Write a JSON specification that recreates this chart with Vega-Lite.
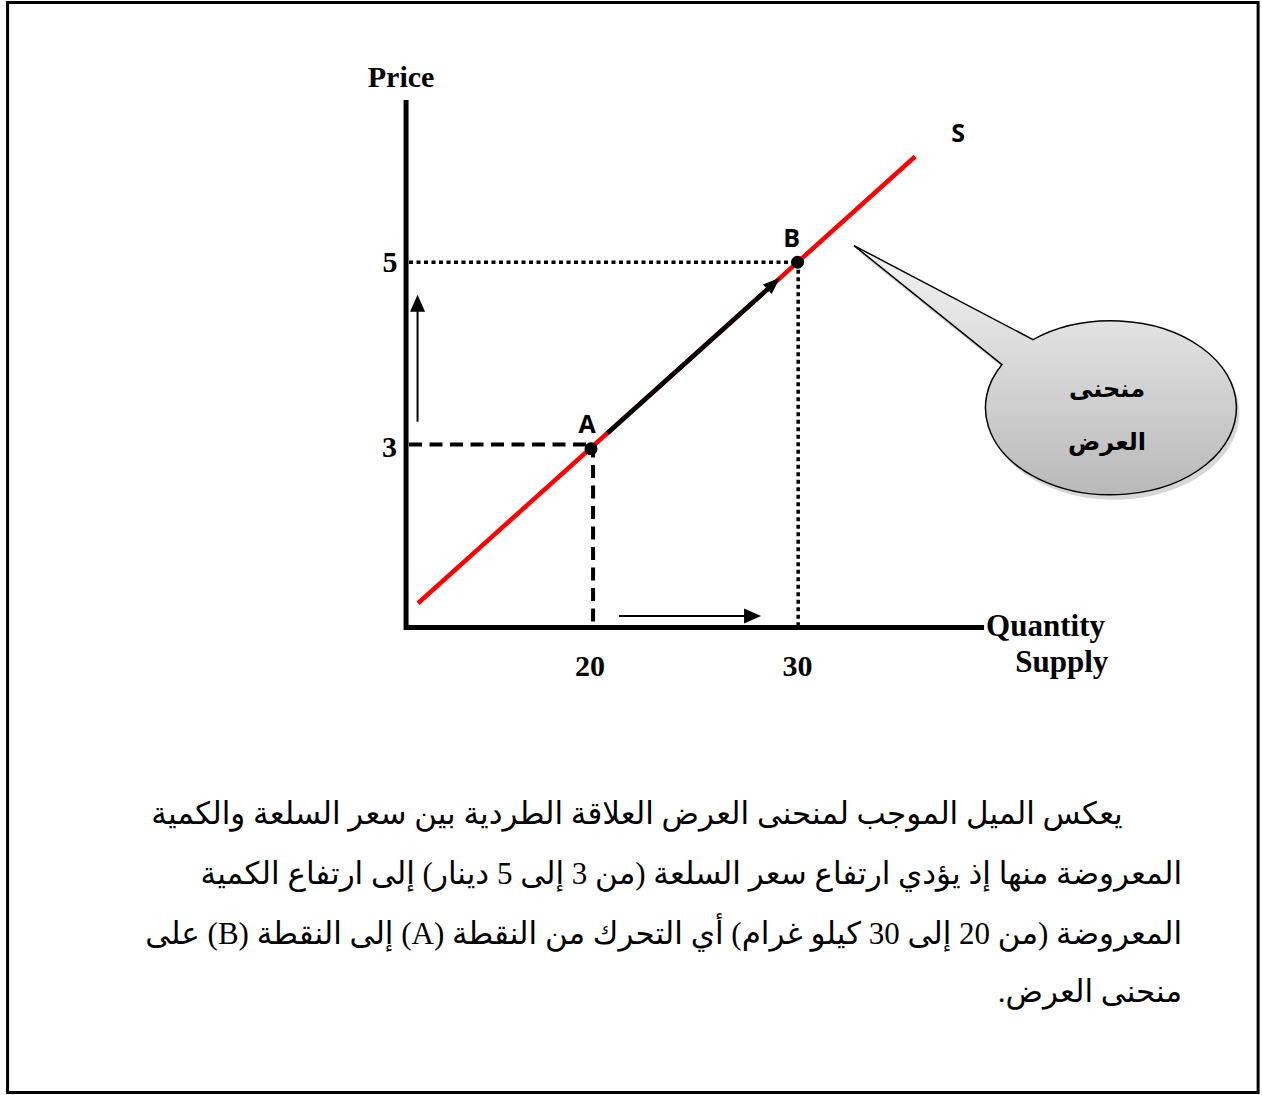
{
  "$schema": "https://vega.github.io/schema/vega-lite/v6.json",
  "autosize": {"type": "fit", "contains": "padding"},
  "width": 1262,
  "height": 1095,
  "padding": 0,
  "background": "white",
  "config": {"view": {"stroke": null}},
  "datasets": {
    "frame": [{"q": -8.63, "p": 7.826, "q2": 52.52, "p2": -4.033}],
    "axes": [
      {"q": 10.856, "p": 6.766, "q2": 10.856, "p2": 1.0},
      {"q": 10.76, "p": 1.027, "q2": 39.12, "p2": 1.027}
    ],
    "dotted": [
      {"q": 11.0, "p": 5, "q2": 30, "p2": 5},
      {"q": 30.03, "p": 5, "q2": 30.03, "p2": 1.05}
    ],
    "dashed": [
      {"q": 11.0, "p": 3.016, "q2": 20, "p2": 3.016},
      {"q": 20, "p": 3.016, "q2": 20, "p2": 1.05}
    ],
    "supply": [{"q": 11.44, "p": 1.29, "q2": 35.75, "p2": 6.15}],
    "move": [{"q": 20.7, "p": 3.14, "q2": 28.75, "p2": 4.75}],
    "moveHead": [{"q": 29.14, "p": 4.83}],
    "priceArrow": [{"q": 11.418, "p": 3.266, "q2": 11.418, "p2": 4.55}],
    "priceHead": [{"q": 11.418, "p": 4.647}],
    "qtyArrow": [{"q": 21.27, "p": 1.152, "q2": 27.6, "p2": 1.152}],
    "qtyHead": [{"q": 28.215, "p": 1.152}],
    "points": [{"q": 19.9, "p": 2.97, "label": "A"}, {"q": 30, "p": 5, "label": "B"}],
    "letters": [
      {"q": 19.71, "p": 3.147, "label": "A"},
      {"q": 29.71, "p": 5.168, "label": "B"},
      {"q": 37.85, "p": 6.31, "label": "S"}
    ],
    "axisText": [
      {"q": 10.61, "p": 6.908, "label": "Price"},
      {"q": 10.07, "p": 4.897, "label": "5"},
      {"q": 10.05, "p": 2.886, "label": "3"},
      {"q": 19.85, "p": 0.495, "label": "20"},
      {"q": 30.0, "p": 0.495, "label": "30"}
    ],
    "axisTitle": [
      {"q": 39.22, "p": 0.929, "label": "Quantity"},
      {"q": 40.64, "p": 0.538, "label": "Supply"}
    ],
    "bubble": [{"q": 45.13, "p": 3.386}],
    "bubbleText": [
      {"q": 45.13, "p": 3.614, "label": "منحنى"},
      {"q": 45.13, "p": 3.038, "label": "العرض"}
    ],
    "para": [
      {"q": 45.9, "p": -1.114, "label": "‫يعكس الميل الموجب لمنحنى العرض العلاقة الطردية بين سعر السلعة والكمية‬"},
      {"q": 48.8, "p": -1.766, "label": "‫المعروضة منها إذ يؤدي ارتفاع سعر السلعة (من 3 إلى 5 دينار) إلى ارتفاع الكمية‬"},
      {"q": 48.8, "p": -2.418, "label": "‫المعروضة (من 20 إلى 30 كيلو غرام) أي التحرك من النقطة (A) إلى النقطة (B) على‬"},
      {"q": 48.8, "p": -3.049, "label": "‫منحنى العرض.‬"}
    ]
  },
  "encoding": {
    "x": {"field": "q", "type": "quantitative", "scale": {"domain": [-9.0, 52.71], "nice": false, "zero": false}, "axis": null},
    "y": {"field": "p", "type": "quantitative", "scale": {"domain": [-4.049, 7.853], "nice": false, "zero": false}, "axis": null}
  },
  "layer": [
    {"data": {"name": "frame"}, "mark": {"type": "rect", "fill": "white", "fillOpacity": 0, "stroke": "black", "strokeWidth": 3},
     "encoding": {"x2": {"field": "q2"}, "y2": {"field": "p2"}}},
    {"data": {"name": "dotted"}, "mark": {"type": "rule", "color": "black", "strokeWidth": 3.5, "strokeDash": [4, 3.5]},
     "encoding": {"x2": {"field": "q2"}, "y2": {"field": "p2"}}},
    {"data": {"name": "dashed"}, "mark": {"type": "rule", "color": "black", "strokeWidth": 4, "strokeDash": [13, 7.5]},
     "encoding": {"x2": {"field": "q2"}, "y2": {"field": "p2"}}},
    {"data": {"name": "supply"}, "mark": {"type": "rule", "color": "#ff0000", "strokeWidth": 4.5},
     "encoding": {"x2": {"field": "q2"}, "y2": {"field": "p2"}}},
    {"data": {"name": "move"}, "mark": {"type": "rule", "color": "black", "strokeWidth": 4.5},
     "encoding": {"x2": {"field": "q2"}, "y2": {"field": "p2"}}},
    {"data": {"name": "moveHead"}, "mark": {"type": "point", "shape": "M0 0 L-6.5 17 L6.5 17 Z", "size": 4, "angle": 48, "filled": true, "color": "black", "opacity": 1}},
    {"data": {"name": "priceArrow"}, "mark": {"type": "rule", "color": "black", "strokeWidth": 2},
     "encoding": {"x2": {"field": "q2"}, "y2": {"field": "p2"}}},
    {"data": {"name": "priceHead"}, "mark": {"type": "point", "shape": "M0 0 L-7.5 17 L7.5 17 Z", "size": 4, "angle": 0, "filled": true, "color": "black", "opacity": 1}},
    {"data": {"name": "qtyArrow"}, "mark": {"type": "rule", "color": "black", "strokeWidth": 2},
     "encoding": {"x2": {"field": "q2"}, "y2": {"field": "p2"}}},
    {"data": {"name": "qtyHead"}, "mark": {"type": "point", "shape": "M0 0 L-7.5 17 L7.5 17 Z", "size": 4, "angle": 90, "filled": true, "color": "black", "opacity": 1}},
    {"data": {"name": "points"}, "mark": {"type": "point", "shape": "circle", "size": 170, "filled": true, "color": "black", "opacity": 1}},
    {"data": {"name": "axes"}, "mark": {"type": "rule", "color": "black", "strokeWidth": 5},
     "encoding": {"x2": {"field": "q2"}, "y2": {"field": "p2"}}},
    {"data": {"name": "bubble"}, "mark": {"type": "point", "shape": "M-253 -165 L-74 -71 A125.5 87 0 1 1 -105 -46 Z", "size": 4, "filled": true, "fill": "#7a7a7a", "fillOpacity": 0.3, "strokeOpacity": 0, "opacity": 1, "xOffset": 3, "yOffset": 5}},
    {"data": {"name": "bubble"}, "mark": {"type": "point", "shape": "M-253 -165 L-74 -71 A125.5 87 0 1 1 -105 -46 Z", "size": 4, "filled": true, "opacity": 1,
      "fill": {"gradient": "linear", "x1": 0, "y1": 0, "x2": 0, "y2": 1, "stops": [{"offset": 0, "color": "#f4f4f4"}, {"offset": 1, "color": "#b9b9b9"}]},
      "stroke": "black", "strokeWidth": 1.5}},
    {"data": {"name": "bubbleText"}, "mark": {"type": "text", "font": "DejaVu Sans", "fontWeight": "bold", "fontSize": 24, "align": "center", "baseline": "middle", "color": "black"},
     "encoding": {"text": {"field": "label"}}},
    {"data": {"name": "letters"}, "mark": {"type": "text", "font": "Open Sans", "fontWeight": "bold", "fontSize": 25, "align": "center", "baseline": "alphabetic", "color": "black"},
     "encoding": {"text": {"field": "label"}}},
    {"data": {"name": "axisText"}, "mark": {"type": "text", "font": "Liberation Serif", "fontWeight": "bold", "fontSize": 30, "align": "center", "baseline": "alphabetic", "color": "black"},
     "encoding": {"text": {"field": "label"}}},
    {"data": {"name": "axisTitle"}, "mark": {"type": "text", "font": "Liberation Serif", "fontWeight": "bold", "fontSize": 31, "align": "left", "baseline": "alphabetic", "color": "black"},
     "encoding": {"text": {"field": "label"}}},
    {"data": {"name": "para"}, "mark": {"type": "text", "font": "Liberation Serif, DejaVu Sans", "fontSize": 31, "align": "right", "baseline": "alphabetic", "color": "black"},
     "encoding": {"text": {"field": "label"}}}
  ]
}
